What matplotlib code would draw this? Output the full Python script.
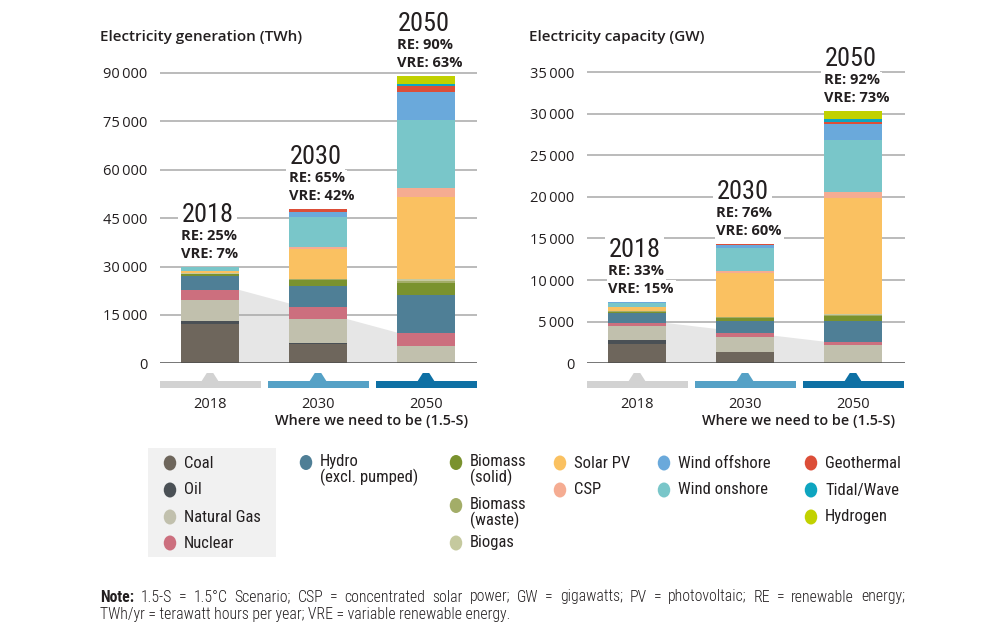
"""Electricity generation and capacity by source, 2018 vs the 1.5-S pathway."""

import numpy as np
import matplotlib.pyplot as plt
from matplotlib import font_manager
from matplotlib.patches import Rectangle, Polygon, Ellipse
from matplotlib.transforms import blended_transform_factory


W, H = 1000, 638

YEARS = ["2018", "2030", "2050"]
SOURCES = [
    "Coal", "Oil", "Natural Gas", "Nuclear", "Hydro\n(excl. pumped)",
    "Biomass\n(solid)", "Biomass\n(waste)", "Biogas", "Solar PV", "CSP",
    "Wind onshore", "Wind offshore", "Geothermal", "Tidal/Wave", "Hydrogen",
]
COLORS = [
    "#6e665c", "#4a5055", "#c1c0ad", "#cc6f7e", "#4f7f96",
    "#7a922e", "#a3ad68", "#c5c99e", "#fac161", "#f5ac92",
    "#79c6c9", "#6aa9db", "#dc4e38", "#0ea5c0", "#c1d100",
]
N_FOSSIL_NUCLEAR = 4  # coal, oil, gas, nuclear

# generation (TWh), same order as SOURCES
GEN_2018 = [12200, 1000, 6500, 3100, 4400, 400, 150, 100, 700, 20, 1240, 60, 90, 0, 0]
GEN_2030 = [6000, 200, 7400, 3700, 6600, 1900, 200, 200, 9200, 600, 9300, 1700, 700, 0, 0]
GEN_2050 = [0, 0, 5400, 4100, 11700, 3800, 500, 500, 25600, 2800, 21000, 8800, 1800, 600, 2600]
GEN_RE = ["25%", "65%", "90%"]
GEN_VRE = ["7%", "42%", "63%"]
GEN_TICKS = [0, 15000, 30000, 45000, 60000, 75000, 90000]

# capacity (GW)
CAP_2018 = [2300, 500, 1650, 400, 1250, 100, 50, 50, 500, 5, 500, 20, 15, 0, 0]
CAP_2030 = [1300, 100, 1800, 500, 1400, 400, 50, 50, 5300, 200, 2800, 300, 100, 0, 0]
CAP_2050 = [0, 0, 2200, 400, 2500, 600, 100, 100, 14000, 700, 6200, 1900, 300, 300, 960]
CAP_RE = ["33%", "76%", "92%"]
CAP_VRE = ["15%", "60%", "73%"]
CAP_TICKS = [0, 5000, 10000, 15000, 20000, 25000, 30000, 35000]

BAND_COLORS = ["#d2d2d2", "#55a1c6", "#0e70a4"]
TEXT = "#231f20"

_names = {f.name for f in font_manager.fontManager.ttflist}
MAIN_FONT = "Open Sans" if "Open Sans" in _names else "DejaVu Sans"
NARROW_FONT = next(
    (n for n in ["Roboto Condensed", "Liberation Sans Narrow", "Open Sans Condensed"] if n in _names),
    "Liberation Sans",
)
NARROW = [NARROW_FONT, "DejaVu Sans"]
plt.rcParams["font.family"] = [MAIN_FONT, "DejaVu Sans"]


def fy(py):
    return 1 - py / H


def draw_panel(fig, x0, x1, y_top_value, top_px, values, re, vre, ticks, title, title_x):
    # axes spanning the grid line extent, y=0 at pixel row 363
    base_px, ax_top_px = 363.3, 20
    ylim_top = y_top_value * (base_px - ax_top_px) / (base_px - top_px)
    ax = fig.add_axes([x0 / W, fy(base_px), (x1 - x0) / W, (base_px - ax_top_px) / H])
    ax.set_xlim(-0.463, -0.463 + (x1 - x0) / 108)
    ax.set_ylim(0, ylim_top)
    for s in ax.spines.values():
        s.set_visible(False)
    ax.set_xticks([])
    ax.set_yticks(ticks)
    ax.set_yticklabels([f"{t:,}".replace(",", "\u2009") if t else "0" for t in ticks])
    ax.tick_params(axis="y", length=0, pad=9, labelsize=10.5, labelcolor=TEXT)

    for t in ticks[1:]:
        ax.axhline(t, color="#a8a8a8", lw=1.1, zorder=1)
    ax.axhline(0, color="#4d4d4d", lw=1.8, zorder=3)

    data = np.array(values, dtype=float)  # years x sources
    x = np.arange(len(YEARS))
    width = 0.53
    bottom = np.zeros(len(YEARS))
    for j, color in enumerate(COLORS):
        ax.bar(x, data[:, j], width, bottom=bottom, color=color, edgecolor="none", zorder=2)
        bottom += data[:, j]
    totals = bottom

    # grey wedge tracking fossil + nuclear from 2018 to 2050
    conv = data[:, :N_FOSSIL_NUCLEAR].sum(axis=1)
    xa, xb = x[0] + width / 2, x[-1] - width / 2
    ax.add_patch(Polygon([(xa, 0), (xa, conv[0]), (xb, conv[-1]), (xb, 0)],
                         closed=True, facecolor="#e6e6e6", edgecolor="none", zorder=0.5))

    box = dict(boxstyle="square,pad=0.12", facecolor="white", edgecolor="none")
    for i, total in enumerate(totals):
        xl = x[i] - width / 2
        ax.annotate(YEARS[i], (xl, total), xytext=(0, 52), textcoords="offset pixels",
                    ha="left", va="center", fontsize=19, family=NARROW,
                    fontstretch="condensed", color=TEXT, bbox=box, zorder=4)
        ax.annotate(f"RE: {re[i]}", (xl, total), xytext=(0, 31), textcoords="offset pixels",
                    ha="left", va="center", fontsize=10.5, fontweight="bold", color=TEXT,
                    bbox=box, zorder=4)
        ax.annotate(f"VRE: {vre[i]}", (xl, total), xytext=(0, 13), textcoords="offset pixels",
                    ha="left", va="center", fontsize=10.5, fontweight="bold", color=TEXT,
                    bbox=box, zorder=4)

    # coloured bands with a tent marker under each year
    tr = blended_transform_factory(ax.transData, fig.transFigure)
    for i, color in enumerate(BAND_COLORS):
        ax.add_patch(Rectangle((x[i] - 0.463, fy(388)), 0.935, fy(381) - fy(388), transform=tr,
                               facecolor=color, edgecolor="none", clip_on=False))
        ax.add_patch(Polygon([(x[i] - 0.08, fy(381.5)), (x[i] - 0.03, fy(373)),
                              (x[i] + 0.03, fy(373)), (x[i] + 0.08, fy(381.5))],
                             closed=True, transform=tr, facecolor=color, edgecolor="none",
                             clip_on=False))
        ax.text(x[i], fy(404), YEARS[i], transform=tr, ha="center", va="center",
                fontsize=10.5, color=TEXT)
    ax.text(1.5, fy(421), "Where we need to be (1.5-S)", transform=tr, ha="center",
            va="center", fontsize=10.4, fontweight="semibold", color=TEXT)

    fig.text(title_x / W, fy(37), title, ha="left", va="center", fontsize=11,
             fontweight="semibold", color=TEXT)
    return ax


def draw_legend(fig):
    fig.add_artist(Rectangle((148 / W, fy(557)), 128 / W, (557 - 448) / H,
                             transform=fig.transFigure, facecolor="#f1f1f1", edgecolor="none"))
    cols = [
        (170, [0, 1, 2, 3], [463, 490, 517, 543]),
        (306, [4], [470]),
        (456, [5, 6, 7], [470, 513, 543]),
        (560, [8, 9], [463, 490]),
        (664, [11, 10], [463, 490]),
        (811, [12, 13, 14], [463, 490, 517]),
    ]
    for cx, idx, rows in cols:
        for j, ry in zip(idx, rows):
            lines = SOURCES[j].count("\n")
            cy = ry - 7.5 * lines
            fig.add_artist(Ellipse((cx / W, fy(cy)), 12.5 / W, 15 / H,
                                   transform=fig.transFigure, facecolor=COLORS[j],
                                   edgecolor="none"))
            fig.text((cx + 14) / W, fy(ry), SOURCES[j], ha="left", va="center",
                     fontsize=12, family=NARROW, fontstretch="condensed", color=TEXT,
                     linespacing=1.05)


def draw_note(fig):
    words = ("Note: 1.5-S = 1.5°C Scenario; CSP = concentrated solar power; GW = gigawatts; "
             "PV = photovoltaic; RE = renewable energy;").split(" ")
    renderer = fig.canvas.get_renderer()
    items = []
    for k, word in enumerate(words):
        t = fig.text(0, fy(597), word, ha="left", va="center", fontsize=11.3, family=NARROW,
                     fontstretch="condensed", color=TEXT,
                     fontweight="bold" if k == 0 else "light")
        items.append((t, t.get_window_extent(renderer).width))
    gap = (805 - sum(w for _, w in items)) / (len(items) - 1)
    xpos = 100
    for t, w in items:
        t.set_x(xpos / W)
        xpos += w + gap
    fig.text(100 / W, fy(615), "TWh/yr = terawatt hours per year; VRE = variable renewable energy.",
             ha="left", va="center", fontsize=11.3, family=NARROW, fontstretch="condensed",
             fontweight="light", color=TEXT)


def main():
    fig = plt.figure(figsize=(W / 100, H / 100), dpi=100)
    fig.patch.set_facecolor("white")

    draw_panel(fig, 160, 477, 90000, 73, [GEN_2018, GEN_2030, GEN_2050], GEN_RE, GEN_VRE,
               GEN_TICKS, "Electricity generation (TWh)", 100)
    draw_panel(fig, 587, 905, 35000, 72, [CAP_2018, CAP_2030, CAP_2050], CAP_RE, CAP_VRE,
               CAP_TICKS, "Electricity capacity (GW)", 529)
    draw_legend(fig)
    draw_note(fig)

    fig.savefig("out.png", dpi=100, facecolor="white")
    plt.close(fig)


if __name__ == "__main__":
    main()
